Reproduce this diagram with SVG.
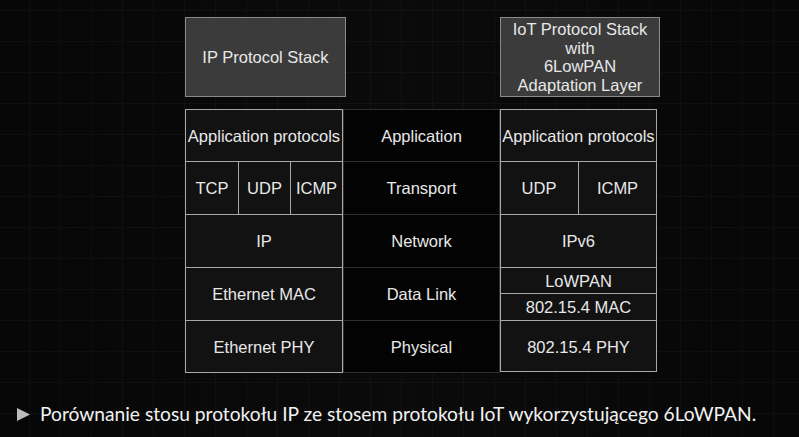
<svg xmlns="http://www.w3.org/2000/svg" width="799" height="437" viewBox="0 0 799 437">
  <defs>
    <pattern id="grid" x="-2" y="10" width="31" height="31" patternUnits="userSpaceOnUse">
      <path d="M0 0.5H31M0.5 0V31" fill="none" stroke="#151515" stroke-width="1"/>
    </pattern>
    <linearGradient id="fade" x1="0" y1="0" x2="1" y2="0">
      <stop offset="0" stop-color="#000" stop-opacity="0.35"/>
      <stop offset="0.5" stop-color="#0b0b0b" stop-opacity="0.25"/>
      <stop offset="1" stop-color="#000" stop-opacity="0.35"/>
    </linearGradient>
    <style>
      .hdr { fill: #3b3b3b; stroke: #8a8a8a; stroke-width: 1; }
      .cell { fill: #121212; stroke: #a8a8a8; stroke-width: 1; }
      .mid { fill: #030303; stroke: #2e2e2e; stroke-width: 1; }
      .sep { stroke: #a8a8a8; stroke-width: 1; }
      text { font-family: "Liberation Sans", Arial, sans-serif; font-size: 16.5px; fill: #e8e8e8; text-anchor: middle; dominant-baseline: central; }
      .cap { font-family: Lato, "Noto Sans", sans-serif; font-size: 19.2px; fill: #f2f2f2; text-anchor: start; dominant-baseline: alphabetic; }
    </style>
  </defs>

  <!-- background -->
  <rect width="799" height="437" fill="#0a0a0a"/>
  <rect width="799" height="437" fill="url(#grid)"/>
  <rect width="799" height="437" fill="url(#fade)"/>

  <!-- stack titles -->
  <g id="ip-title">
    <rect class="hdr" x="185.5" y="17.5" width="160" height="79"/>
    <text x="265.5" y="57">IP Protocol Stack</text>
  </g>
  <g id="iot-title">
    <rect class="hdr" x="500.5" y="17.5" width="159" height="79"/>
    <text x="580" y="29">IoT Protocol Stack</text>
    <text x="580" y="47.5">with</text>
    <text x="580" y="66">6LowPAN</text>
    <text x="580" y="84.5">Adaptation Layer</text>
  </g>

  <!-- middle layer names -->
  <g id="layers">
    <rect class="mid" x="343.5" y="109.5" width="156" height="52"/>
    <rect class="mid" x="343.5" y="161.5" width="156" height="53"/>
    <rect class="mid" x="343.5" y="214.5" width="156" height="53"/>
    <rect class="mid" x="343.5" y="267.5" width="156" height="53"/>
    <rect class="mid" x="343.5" y="320.5" width="156" height="52"/>
    <text x="421.5" y="135.5">Application</text>
    <text x="421.5" y="188">Transport</text>
    <text x="421.5" y="241">Network</text>
    <text x="421.5" y="294">Data Link</text>
    <text x="421.5" y="346.5">Physical</text>
  </g>

  <!-- IP stack -->
  <g id="ip-stack">
    <rect class="cell" x="185.5" y="109.5" width="157" height="263"/>
    <line class="sep" x1="185.5" y1="161.5" x2="342.5" y2="161.5"/>
    <line class="sep" x1="185.5" y1="214.5" x2="342.5" y2="214.5"/>
    <line class="sep" x1="185.5" y1="267.5" x2="342.5" y2="267.5"/>
    <line class="sep" x1="185.5" y1="320.5" x2="342.5" y2="320.5"/>
    <line class="sep" x1="238.5" y1="161.5" x2="238.5" y2="214.5"/>
    <line class="sep" x1="290.5" y1="161.5" x2="290.5" y2="214.5"/>
    <text x="264" y="135.5">Application protocols</text>
    <text x="212" y="188">TCP</text>
    <text x="264.5" y="188">UDP</text>
    <text x="316.5" y="188">ICMP</text>
    <text x="264" y="241">IP</text>
    <text x="264" y="293.5">Ethernet MAC</text>
    <text x="264" y="346.5">Ethernet PHY</text>
  </g>

  <!-- IoT stack -->
  <g id="iot-stack">
    <rect class="cell" x="500.5" y="109.5" width="156" height="262"/>
    <line class="sep" x1="500.5" y1="161.5" x2="656.5" y2="161.5"/>
    <line class="sep" x1="500.5" y1="214.5" x2="656.5" y2="214.5"/>
    <line class="sep" x1="500.5" y1="267.5" x2="656.5" y2="267.5"/>
    <line class="sep" x1="500.5" y1="293.5" x2="656.5" y2="293.5"/>
    <line class="sep" x1="500.5" y1="320.5" x2="656.5" y2="320.5"/>
    <line class="sep" x1="578.5" y1="161.5" x2="578.5" y2="214.5"/>
    <text x="578.5" y="135.5">Application protocols</text>
    <text x="539" y="188">UDP</text>
    <text x="617.5" y="188">ICMP</text>
    <text x="578.5" y="241">IPv6</text>
    <text x="578.5" y="280.5">LoWPAN</text>
    <text x="578.5" y="306.5">802.15.4 MAC</text>
    <text x="578.5" y="346.5">802.15.4 PHY</text>
  </g>

  <!-- caption -->
  <g id="caption">
    <polygon points="17,408 30,414.5 17,421" fill="#bdbdbd"/>
    <text class="cap" x="40" y="421">Porównanie stosu protokołu IP ze stosem protokołu IoT wykorzystującego 6LoWPAN.</text>
  </g>
</svg>
